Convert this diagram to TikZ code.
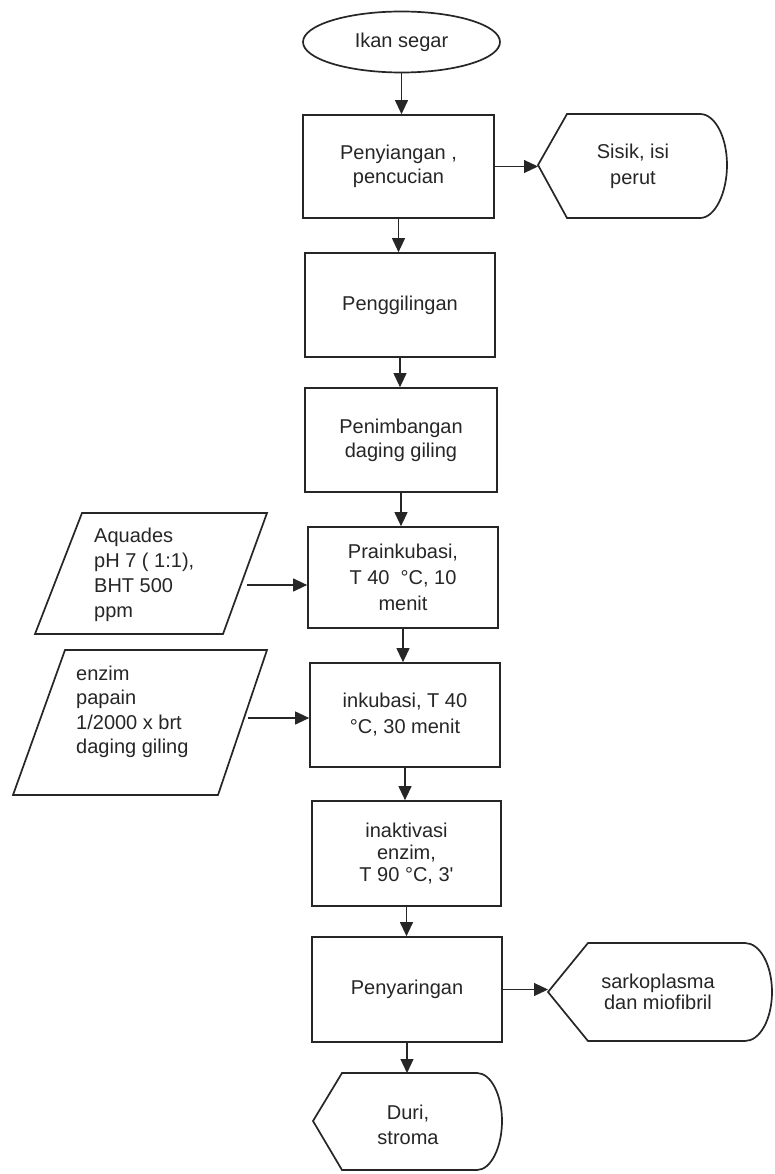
\documentclass[tikz,border=0pt]{standalone}
\usepackage{fontspec}
\setmainfont{Liberation Sans}
\usetikzlibrary{shapes.geometric,arrows.meta}
\begin{document}
\begin{tikzpicture}[x=1pt,y=-1pt,
  every node/.style={font=\fontsize{20}{24}\selectfont, text=black!85},
  outline/.style={draw=black!85, line width=1.7pt},
  procbox/.style={outline, rectangle, align=center, inner sep=0pt},
  flow/.style={draw=black!85, line width=1.1pt, -{Triangle[length=14pt,width=13pt]}},
  txt/.style={align=center, inner sep=0pt},
  ltxt/.style={align=left, inner sep=0pt, anchor=west}]
\fill[white] (0,0) rectangle (774,1174);
\useasboundingbox (0,0) rectangle (774,1174);

% start
\node[outline, ellipse, minimum width=197pt, minimum height=61pt, inner sep=0pt] (ikan) at (401.5,42) {Ikan segar};

% process boxes
\node[procbox, minimum width=191pt, minimum height=103pt] (p1) at (398.5,166.5) {Penyiangan ,\\pencucian};
\node[procbox, minimum width=190pt, minimum height=104pt] (p2) at (400,305) {Penggilingan};
\node[procbox, minimum width=192pt, minimum height=104pt] (p3) at (401,440) {Penimbangan\\daging giling};
\node[procbox, minimum width=190pt, minimum height=101pt, font=\fontsize{20}{26}\selectfont] (p4) at (403,577.5) {Prainkubasi,\\T 40\ \ °C, 10\\menit};
\node[procbox, minimum width=190pt, minimum height=104pt, font=\fontsize{20}{26}\selectfont] (p5) at (405,715) {inkubasi, T 40\\°C, 30 menit};
\node[procbox, minimum width=189pt, minimum height=105pt, font=\fontsize{20}{22}\selectfont] (p6) at (406.5,853.5) {inaktivasi\\enzim,\\T 90 °C, 3\textquotesingle};
\node[procbox, minimum width=190pt, minimum height=105pt] (p7) at (407,989.5) {Penyaringan};

% output shape: Sisik, isi perut
\draw[outline] (538,165) -- (567,114) -- (700,114)
  .. controls (715,114) and (727,137) .. (727,165)
  .. controls (727,193) and (715,218) .. (700,218) -- (567,218) -- cycle;
\coordinate (sisik-tip) at (538,165);
\node[txt, font=\fontsize{20}{26}\selectfont] (sisik) at (633,166) {Sisik, isi\\perut};

% output shape: sarkoplasma dan miofibril
\draw[outline] (548,992) -- (588,943) -- (745,943)
  .. controls (760,943) and (772,965) .. (772,992)
  .. controls (772,1019) and (760,1041) .. (745,1041) -- (588,1041) -- cycle;
\coordinate (sark-tip) at (548,992);
\node[txt, font=\fontsize{20}{21}\selectfont] (sark) at (658,992) {sarkoplasma\\dan miofibril};

% output shape: Duri, stroma
\draw[outline] (313,1121) -- (342,1073) -- (477,1073)
  .. controls (491,1073) and (502,1095) .. (502,1121)
  .. controls (502,1147) and (491,1170) .. (477,1170) -- (342,1170) -- cycle;
\coordinate (duri-top) at (408,1073);
\node[txt, font=\fontsize{20}{25}\selectfont] (duri) at (408,1125) {Duri,\\stroma};

% input parallelograms
\draw[outline] (82,513) -- (267,513) -- (223,634) -- (35,634) -- cycle;
\coordinate (aq-out) at (247,585);
\node[ltxt, font=\fontsize{20}{25}\selectfont] (aq) at (94,575) {Aquades\\pH 7 ( 1:1),\\BHT 500\\ppm};

\draw[outline] (65,650) -- (267,650) -- (218,795) -- (13,795) -- cycle;
\coordinate (enz-out) at (248,718);
\node[ltxt, font=\fontsize{20}{24.5}\selectfont] (enz) at (76,712) {enzim\\papain\\1/2000 x brt\\daging giling};

% connectors
\draw[flow] (ikan.south) -- (ikan.south |- p1.north);
\draw[flow] (p1.east) -- (p1.east -| sisik-tip);
\draw[flow] (p1.south) -- (p1.south |- p2.north);
\draw[flow] (p2.south) -- (p2.south |- p3.north);
\draw[flow] (p3.south) -- (p3.south |- p4.north);
\draw[flow] (aq-out) -- (aq-out -| p4.west);
\draw[flow] (p4.south) -- (p4.south |- p5.north);
\draw[flow] (enz-out) -- (enz-out -| p5.west);
\draw[flow] (p5.south) -- (p5.south |- p6.north);
\draw[flow] (p6.south) -- (p6.south |- p7.north);
\draw[flow] (p7.east) -- (p7.east -| sark-tip);
\draw[flow] (p7.south) -- (p7.south |- duri-top);
\end{tikzpicture}
\end{document}
